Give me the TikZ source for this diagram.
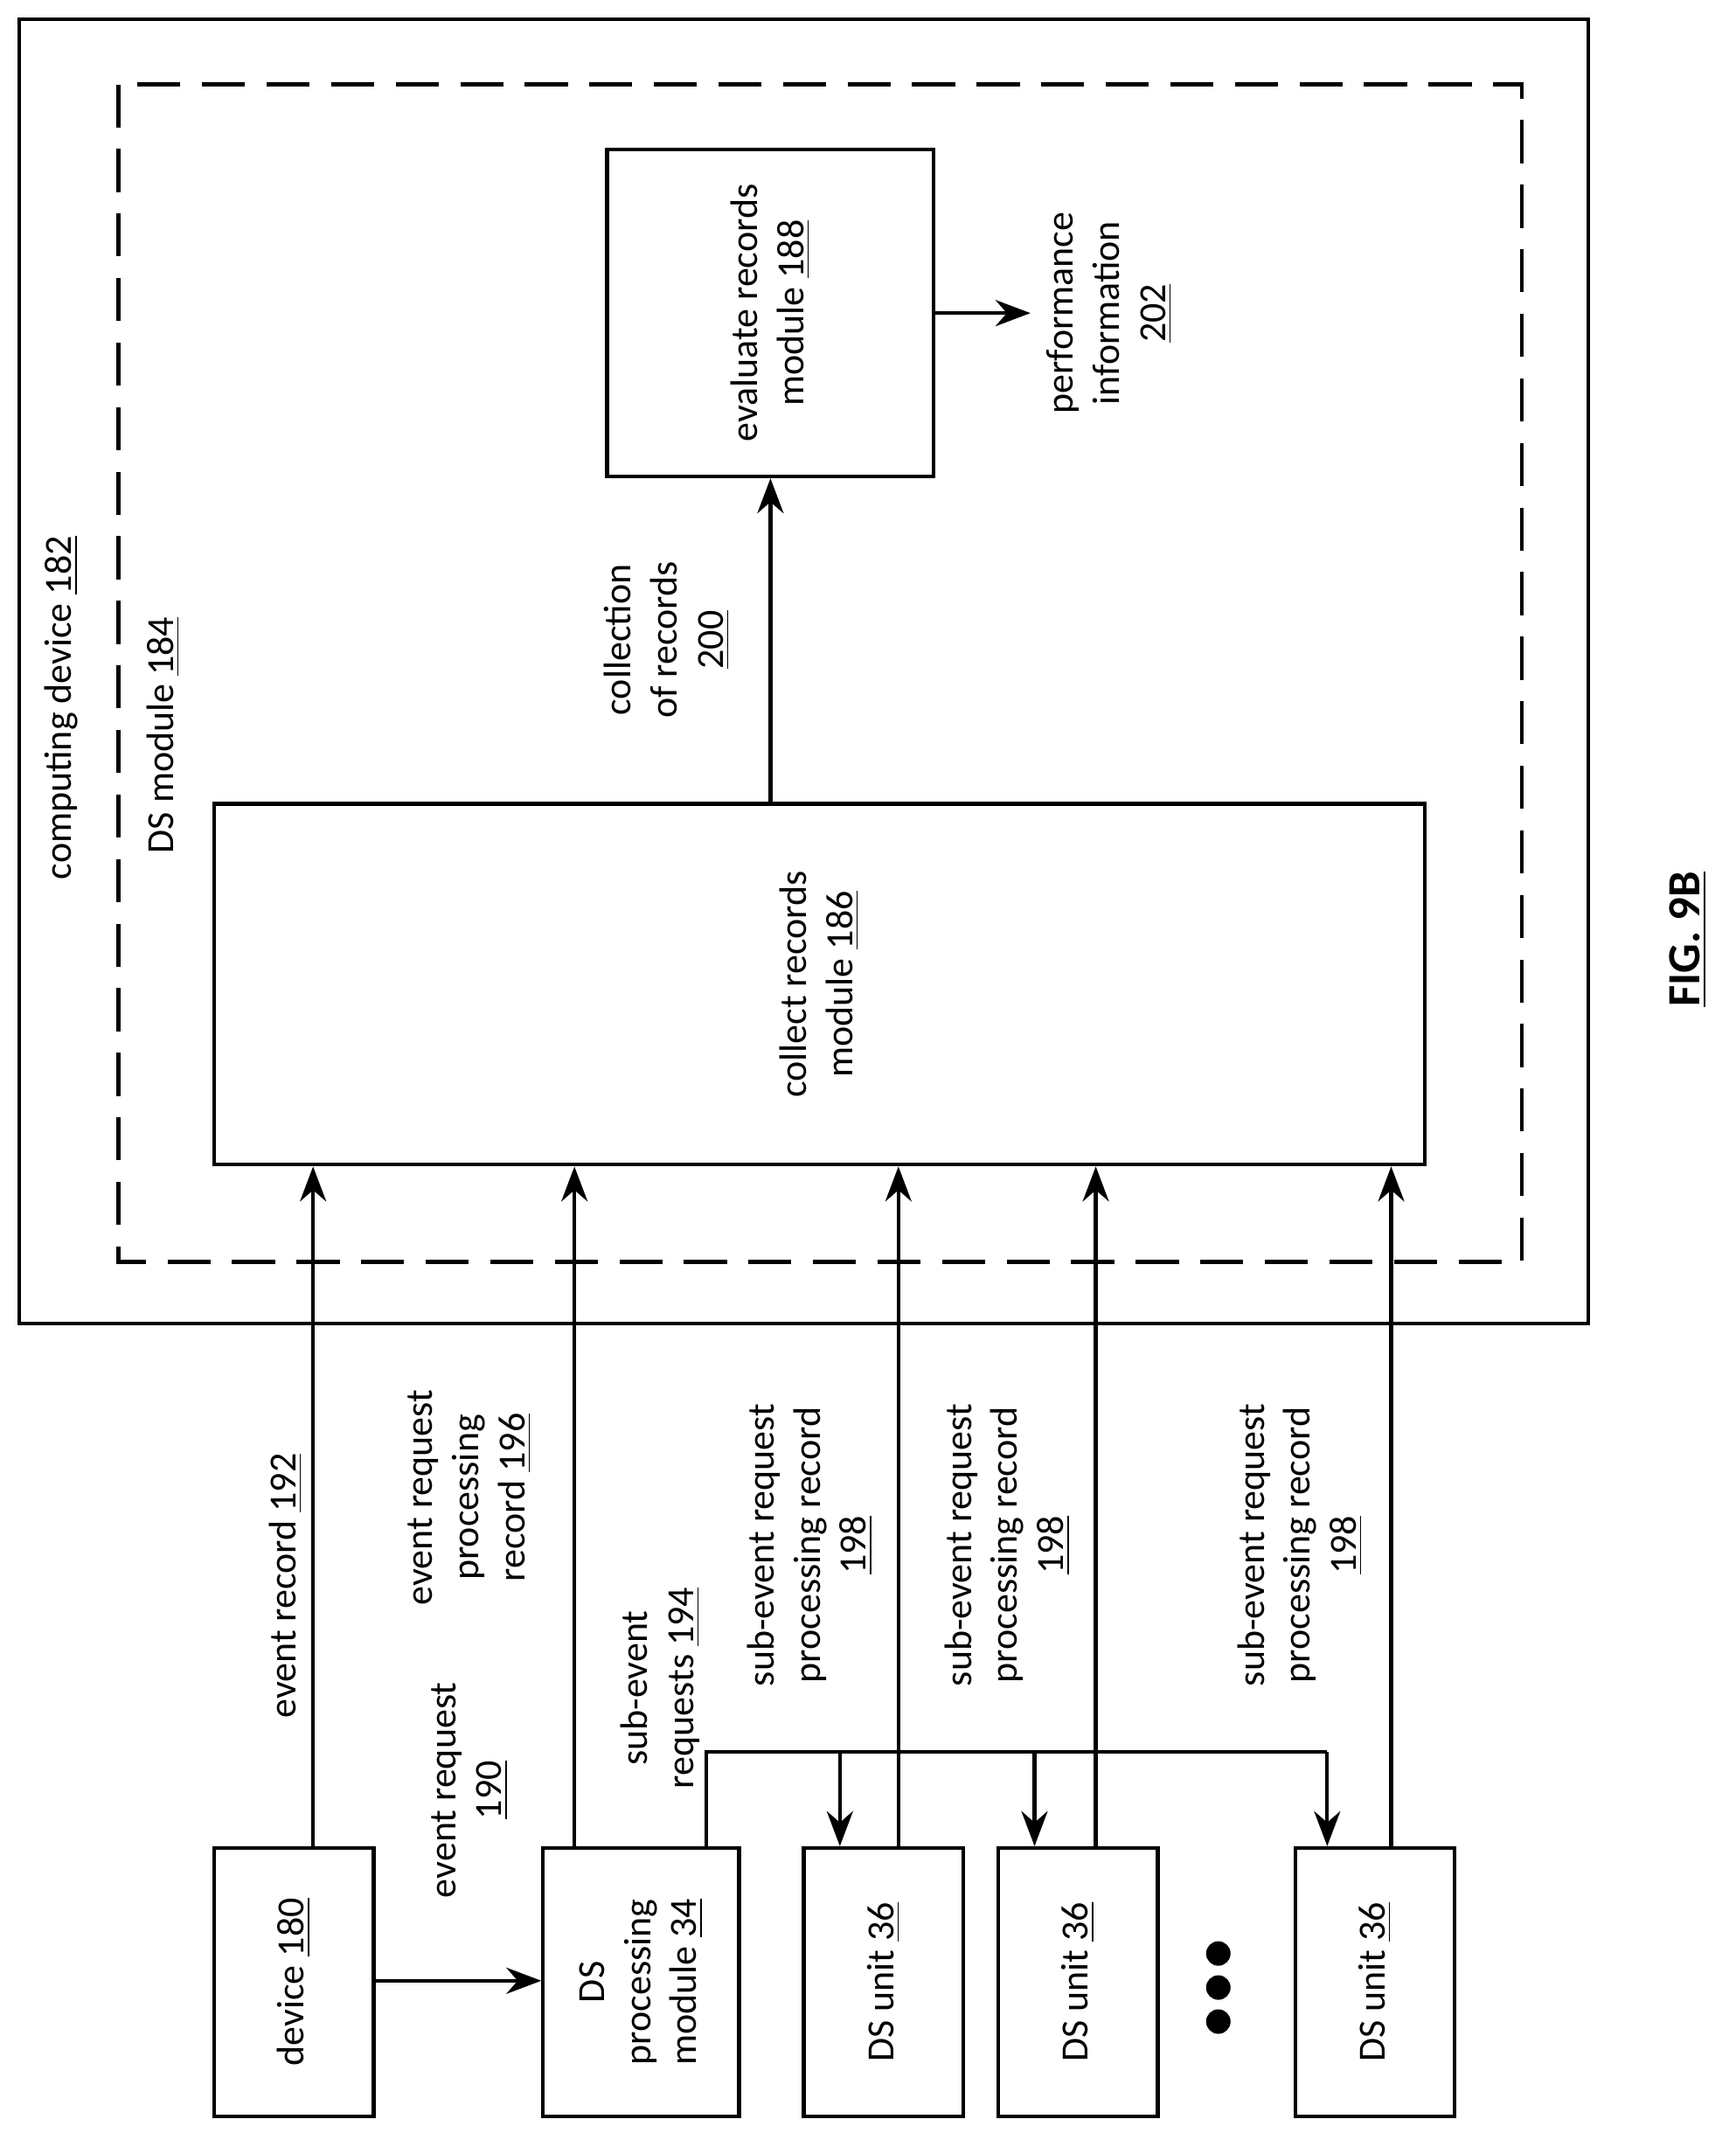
\documentclass[tikz,border=0pt]{standalone}
\usepackage{fontspec}
\setmainfont{Carlito}
\usetikzlibrary{arrows.meta}
\begin{document}
\begin{tikzpicture}[
    x=0.01557cm, y=-0.01557cm,
    % GLOBAL CFG
    font=\fontsize{12.5}{15}\selectfont,
    >={Stealth[length=4mm,width=3mm]},
    % Styles
    box/.style={% For the module boxes
        draw, line width=1.2pt, inner sep=0pt,
        },
    lbl/.style={% rotated labels
        rotate=90, align=center, inner sep=1pt,
        },
    flow/.style={% connectors
        line width=1.2pt,
        },
    ]
    \useasboundingbox (0,0) rectangle (1275,1572);

    % Frames
    \draw [box] (14,14) rectangle (1167,972);
    \draw [line width=1.2pt, dash pattern=on 14pt off 7pt] (87,62) rectangle (1118,927);
    \node [lbl] (computing) at (45,520) {computing device \underline{182}};
    \node [lbl] (dsmodule) at (120,540) {DS module \underline{184}};

    % Modules
    \node [box, minimum width=240*0.01557cm, minimum height=240*0.01557cm] (evaluate) at (566,230) {};
    \node [lbl] at (evaluate.center) {evaluate records\\module \underline{188}};
    \node [box, minimum width=889*0.01557cm, minimum height=265*0.01557cm] (collect) at (602,723) {};
    \node [lbl] at (collect.center) {collect records\\module \underline{186}};
    \coordinate (perfend) at (757,230);
    \node [lbl] (perf) at (815,230) {performance\\information\\\underline{202}};
    \node [lbl] (collection) at (490,470) {collection\\of records\\\underline{200}};

    % Bottom boxes
    \node [box, minimum width=117*0.01557cm, minimum height=197*0.01557cm] (device) at (216,1456) {};
    \node [lbl] at (device.center) {device \underline{180}};
    \node [box, minimum width=144*0.01557cm, minimum height=197*0.01557cm] (dsproc) at (471,1456) {};
    \node [lbl] at (dsproc.center) {DS\\processing\\module \underline{34}};
    \node [box, minimum width=117*0.01557cm, minimum height=197*0.01557cm] (unitA) at (649,1456) {};
    \node [lbl] at (unitA.center) {DS unit \underline{36}};
    \node [box, minimum width=117*0.01557cm, minimum height=197*0.01557cm] (unitB) at (792,1456) {};
    \node [lbl] at (unitB.center) {DS unit \underline{36}};
    \node [box, minimum width=117*0.01557cm, minimum height=197*0.01557cm] (unitC) at (1010,1456) {};
    \node [lbl] at (unitC.center) {DS unit \underline{36}};
    \foreach \yy in {1435,1460,1485}
        \fill (895,\yy) circle (9);

    % Connectors
    \draw [->, flow] (collect.north -| evaluate.south) -- (evaluate.south);
    \draw [->, flow] (evaluate.east) -- (perfend);
    \draw [->, flow] (device.east |- 0,1455) -- (dsproc.west |- 0,1455);
    \draw [->, flow] (device.north -| 230,0) -- (collect.south -| 230,0);
    \draw [->, flow] (dsproc.north -| 422,0) -- (collect.south -| 422,0);
    \draw [->, flow] (unitA.north -| 660,0) -- (collect.south -| 660,0);
    \draw [->, flow] (unitB.north -| 805,0) -- (collect.south -| 805,0);
    \draw [->, flow] (unitC.north -| 1022,0) -- (collect.south -| 1022,0);
    \coordinate (split) at (519,1287);
    \draw [flow] (dsproc.north -| split) -- (split) -- (975,1287);
    \draw [->, flow] (617,1287) -- (unitA.north -| 617,0);
    \draw [->, flow] (760,1287) -- (unitB.north -| 760,0);
    \draw [->, flow] (975,1287) -- (unitC.north -| 975,0);

    % Connector labels
    \node [lbl] (evrec) at (210,1165) {event record \underline{192}};
    \node [lbl] (evreq) at (345,1315) {event request\\\underline{190}};
    \node [lbl] (evproc) at (345,1100) {event request\\processing\\record \underline{196}};
    \node [lbl] (subreq) at (485,1240) {sub-event\\requests \underline{194}};
    \node [lbl] (subA) at (595,1135) {sub-event request\\processing record\\\underline{198}};
    \node [lbl] (subB) at (740,1135) {sub-event request\\processing record\\\underline{198}};
    \node [lbl] (subC) at (955,1135) {sub-event request\\processing record\\\underline{198}};

    \node [lbl, font=\fontsize{15}{18}\selectfont\bfseries] (fig) at (1240,690) {\underline{FIG. 9B}};
\end{tikzpicture}
\end{document}
